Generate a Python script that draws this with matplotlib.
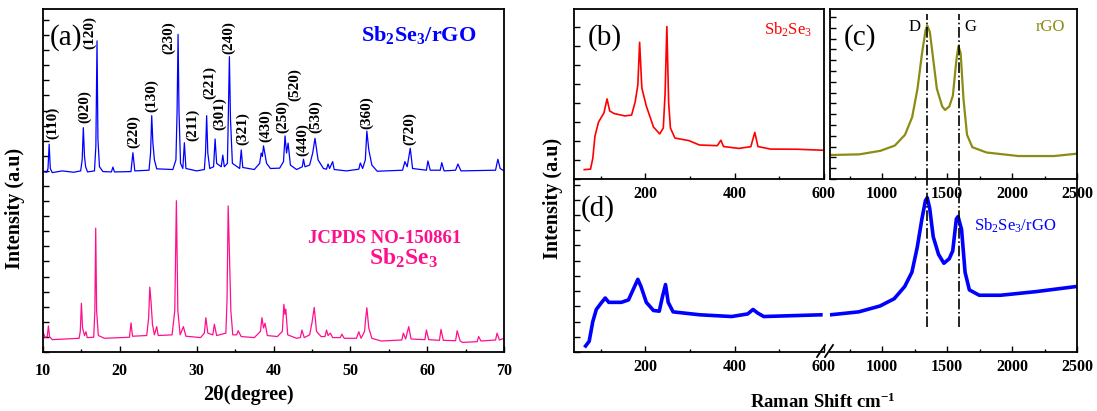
#!/usr/bin/env python
# -*- coding:utf-8 -*-

import matplotlib
matplotlib.use('Agg')
from matplotlib import pyplot as plt
from matplotlib.lines import Line2D
from matplotlib.ticker import MultipleLocator

plt.rcParams['font.family'] = ['Liberation Serif', 'DejaVu Serif']
plt.rcParams['mathtext.fontset'] = 'custom'
plt.rcParams['mathtext.rm'] = 'Liberation Serif'
plt.rcParams['mathtext.it'] = 'Liberation Serif:italic'
plt.rcParams['mathtext.bf'] = 'Liberation Serif:bold'

xrd_comp_2t = [10.0, 10.5, 10.65, 10.8, 10.95, 11.2, 12.5, 14.0, 14.9, 15.1,
               15.25, 15.4, 15.55, 15.8, 16.7, 16.88, 17.03, 17.15, 17.35,
               17.8, 18.9, 19.1, 19.3, 21.45, 21.7, 21.95, 23.8, 24.0, 24.15,
               24.3, 24.5, 24.8, 26.9, 27.3, 27.45, 27.58, 27.7, 27.9, 28.2,
               28.4, 28.6, 30.0, 31.0, 31.15, 31.3, 31.45, 31.7, 32.2, 32.4,
               32.6, 33.2, 33.4, 33.6, 34.0, 34.13, 34.26, 34.4, 34.65, 35.6,
               35.8, 36.0, 37.5, 38.2, 38.4, 38.55, 38.7, 39.1, 39.6, 40.8,
               41.3, 41.5, 41.7, 41.9, 42.2, 43.0, 43.75, 43.9, 44.1, 44.7,
               45.1, 45.4, 45.8, 46.5, 46.9, 47.1, 47.3, 47.7, 47.9, 49.5,
               50.8, 51.1, 51.3, 51.6, 51.95, 52.15, 52.4, 52.8, 53.5, 56.8,
               57.1, 57.4, 57.8, 58.1, 59.9, 60.1, 60.4, 61.7, 61.9, 62.2,
               63.7, 64.0, 64.4, 68.9, 69.2, 69.5, 70.0]
xrd_comp_int = [52.6, 52.4, 53.5, 60.6, 53.5, 52.3, 52.8, 52.4, 52.8, 56.0,
                65.4, 57.0, 54.0, 52.5, 52.8, 60.0, 90.7, 62.0, 54.0,
                52.6, 52.5, 53.9, 52.5, 52.6, 58.1, 52.8, 53.0, 58.0, 68.9,
                61.0, 56.0, 53.4, 53.2, 56.0, 70.0, 92.6, 70.0, 55.0, 53.5,
                61.0, 53.5, 52.8, 53.2, 58.0, 68.9, 58.0, 53.5, 54.0, 62.1,
                55.0, 54.0, 57.4, 54.0, 55.0, 70.0, 86.1, 68.0, 55.0, 53.5,
                58.9, 53.8, 53.2, 55.0, 58.0, 57.0, 60.1, 55.0, 53.5, 53.6,
                55.5, 63.0, 58.0, 60.9, 54.5, 53.2, 54.0, 56.2, 54.0, 54.5,
                58.0, 62.3, 56.0, 53.5, 53.3, 54.8, 53.5, 55.5, 53.2, 52.8,
                53.2, 53.3, 55.1, 53.5, 56.0, 64.4, 59.0, 54.5, 52.7, 53.0,
                55.5, 54.0, 59.4, 53.5, 53.0, 55.7, 53.0, 53.0, 55.2, 52.8,
                53.0, 54.8, 52.8, 53.0, 56.2, 53.5, 52.8]

# ---- (a) XRD, JCPDS 15-0861 Sb2Se3 reference ----
xrd_ref_2t = [10.0, 10.3, 10.55, 10.7, 10.85, 11.2, 13.0, 14.7, 14.85, 15.0,
              15.15, 15.4, 15.6, 15.75, 16.6, 16.75, 16.86, 16.98, 17.2,
              18.0, 21.25, 21.46, 21.65, 23.5, 23.75, 23.9, 24.05, 24.25,
              24.5, 24.8, 25.0, 26.8, 27.15, 27.36, 27.55, 27.85, 28.27,
              28.6, 30.5, 31.0, 31.2, 31.45, 32.1, 32.3, 32.6, 33.8, 33.95,
              34.1, 34.25, 34.45, 34.7, 35.2, 35.4, 35.8, 37.5, 38.3, 38.5,
              38.7, 38.9, 39.2, 40.5, 41.15, 41.35, 41.48, 41.6, 41.85, 43.0,
              43.5, 43.7, 44.0, 44.7, 45.0, 45.3, 45.6, 46.2, 46.7, 46.9,
              47.1, 47.4, 47.7, 48.7, 48.9, 49.2, 50.8, 51.1, 51.4, 51.85,
              52.0, 52.15, 52.4, 52.8, 54.0, 56.7, 56.9, 57.2, 57.6, 57.9,
              59.7, 59.9, 60.2, 61.6, 61.8, 62.1, 63.7, 63.9, 64.3, 64.6,
              66.5, 66.7, 67.0, 68.9, 69.1, 69.4, 70.0]
xrd_ref_int = [5.8, 4.2, 4.5, 7.6, 4.5, 3.6, 3.8, 4.0, 6.0, 14.2,
               7.0, 4.8, 5.9, 4.2, 4.3, 12.0, 36.1, 12.0, 4.8,
               4.0, 4.3, 8.5, 4.6, 4.8, 10.0, 18.9, 15.0, 8.0,
               5.0, 7.4, 4.8, 5.0, 12.0, 44.1, 12.0, 5.0, 7.4,
               4.6, 4.2, 5.5, 10.0, 5.5, 5.0, 8.1, 4.8, 5.5, 15.0,
               42.6, 30.0, 12.0, 5.0, 5.0, 6.2, 4.5, 4.2, 6.0, 10.0,
               7.0, 8.4, 4.8, 4.5, 6.0, 13.9, 11.0, 12.5, 5.0, 4.0,
               4.2, 6.4, 4.2, 5.0, 8.4, 13.0, 6.0, 4.5, 4.5, 6.4,
               4.8, 5.5, 4.2, 4.2, 5.2, 4.0, 4.0, 5.9, 4.0, 6.0,
               9.8, 12.9, 7.0, 4.0, 3.2, 3.5, 5.5, 3.8, 7.4, 3.8,
               3.6, 6.4, 3.6, 3.4, 6.6, 3.4, 3.3, 6.2, 3.2, 2.8,
               3.0, 4.5, 3.2, 3.5, 5.5, 3.5, 4.0]

# Miller indices and where their labels sit
hkl_names = ['(110)', '(020)', '(120)', '(220)', '(130)', '(230)', '(211)',
             '(221)', '(301)', '(240)', '(321)', '(430)', '(250)', '(520)',
             '(440)', '(530)', '(360)', '(720)']
hkl_2t = [11.26, 15.47, 16.12, 21.75, 24.15, 26.40, 29.48, 31.65, 33.04,
          34.21, 36.0, 38.99, 41.2, 42.8, 43.75, 45.53, 52.13, 57.68]
hkl_y = [66.9, 71.5, 93.1, 64.4, 74.9, 91.8, 66.3, 78.6, 69.4, 91.7, 65.0,
         65.9, 68.6, 78.0, 61.8, 68.5, 69.7, 65.0]

# ---- (b) Raman, Sb2Se3 ----
raman_sb_x = [63, 77, 82, 87, 95, 107, 114, 120, 130, 154, 169, 177, 183,
              187, 192, 202, 218, 232, 240, 244, 248, 252, 256, 266, 297,
              321, 361, 369, 375, 409, 436, 445, 452, 480, 540, 599]
raman_sb_y = [5.5, 5.8, 12.0, 25.3, 33.5, 38.8, 47.1, 40.0, 38.5, 37.1,
              37.6, 45.3, 55.3, 80.4, 53.5, 42.9, 30.6, 26.5, 30.0, 50.0,
              89.7, 45.0, 30.0, 24.1, 22.6, 20.0, 19.6, 22.8, 19.1, 18.0,
              19.0, 27.4, 19.1, 17.6, 17.5, 16.9]

# ---- (c) Raman, rGO ----
raman_rgo_x = [600, 826, 989, 1099, 1177, 1232, 1273, 1308, 1335, 1348,
               1368, 1395, 1422, 1463, 1485, 1518, 1545, 1572, 1588, 1605,
               1627, 1654, 1695, 1804, 2050, 2323, 2500]
raman_rgo_y = [14.1, 14.5, 16.6, 19.7, 26.0, 36.4, 53.1, 74.0, 87.5, 90.3,
               86.5, 69.8, 53.1, 42.7, 40.6, 42.7, 49.0, 69.8, 78.2, 74.0,
               46.9, 26.0, 18.7, 15.6, 13.5, 13.5, 14.9]

# ---- (d) Raman, Sb2Se3/rGO (low and high shift parts) ----
raman_comp_lo_x = [66, 74, 82, 90, 102, 110, 118, 146, 162, 174, 183, 190,
                   202, 218, 231, 238, 245, 251, 262, 322, 393, 429, 441,
                   451, 465, 593]
raman_comp_lo_y = [3.5, 6.2, 17.5, 24.6, 28.7, 31.2, 28.7, 28.7, 30.1, 36.9,
                   42.0, 37.9, 28.7, 24.0, 23.6, 31.8, 39.0, 28.7, 23.2,
                   21.5, 20.5, 22.0, 24.6, 22.6, 20.5, 21.5]
raman_comp_hi_x = [603, 821, 985, 1094, 1175, 1230, 1271, 1307, 1334, 1348,
                   1367, 1394, 1435, 1476, 1517, 1544, 1572, 1585, 1612,
                   1639, 1672, 1748, 1912, 2185, 2499]
raman_comp_hi_y = [21.5, 23.2, 26.6, 30.8, 37.9, 46.1, 60.5, 76.9, 87.5,
                   89.2, 83.0, 66.6, 56.4, 51.3, 53.9, 58.4, 76.9, 78.3,
                   70.8, 46.1, 35.9, 32.8, 32.8, 34.9, 37.9]

# D and G band positions
band_names = ['D', 'G']
band_pos = [1348, 1595]

TICK_FS = 11.5


def style_axis(ax, ystep, spine_lw=1.3):
    """  """
    for sp in ax.spines.values():
        sp.set_linewidth(spine_lw)
    ax.tick_params(axis='both', which='both', direction='in', width=1.0,
                   top=False, right=False, labelleft=False)
    ax.tick_params(which='major', length=4)
    ax.tick_params(which='minor', length=2.5)
    ax.yaxis.set_major_locator(MultipleLocator(ystep))
    ax.set_ylim(0, 100)
    for lab in ax.get_xticklabels():
        lab.set_fontweight('bold')
        lab.set_fontsize(TICK_FS)
    ax.tick_params(axis='x', pad=5)


def main():
    """  """
    fig = plt.figure(figsize=(10.97, 4.11), dpi=100)
    W, H = 1097.0, 411.0

    def rect(l, t, r, b):
        return [l / W, 1 - b / H, (r - l) / W, (b - t) / H]

    ax_a = fig.add_axes(rect(43, 9, 504, 352))
    ax_d1 = fig.add_axes(rect(574, 179, 824, 352))
    ax_d2 = fig.add_axes(rect(830, 179, 1077, 352))
    ax_b = fig.add_axes(rect(574, 9, 824, 179))
    ax_c = fig.add_axes(rect(830, 9, 1077, 179))
    for ax in (ax_d1, ax_d2):
        ax.patch.set_alpha(0)

    # (a) XRD
    ax_a.plot(xrd_comp_2t, xrd_comp_int, color='#0000FF', lw=0.9)
    ax_a.plot(xrd_ref_2t, xrd_ref_int, color='#FF0F8C', lw=0.9)
    ax_a.set_xlim(10, 70)
    ax_a.set_xticks([10, 20, 30, 40, 50, 60, 70])
    ax_a.xaxis.set_minor_locator(MultipleLocator(5))
    style_axis(ax_a, 4.4)
    ax_a.tick_params(axis='x', pad=8)
    for name, x, y in zip(hkl_names, hkl_2t, hkl_y):
        ax_a.text(x, y, name, rotation=90, ha='center', va='center',
                  fontsize=11, fontweight='bold')
    ax_a.text(0.050, 0.918, '(a)', transform=ax_a.transAxes, fontsize=21,
              ha='center', va='center')
    ax_a.text(0.815, 0.924, r'Sb$_\mathbf{2}$Se$_\mathbf{3}$/rGO',
              transform=ax_a.transAxes, fontsize=16, fontweight='bold',
              color='#0000FF', ha='center', va='center')
    ax_a.text(0.742, 0.332, 'JCPDS NO-150861', transform=ax_a.transAxes,
              fontsize=13.5, fontweight='bold', color='#FF0F8C',
              ha='center', va='center')
    ax_a.text(0.781, 0.272, r'Sb$_\mathbf{2}$Se$_\mathbf{3}$',
              transform=ax_a.transAxes, fontsize=17, fontweight='bold',
              color='#FF0F8C', ha='center', va='center')

    # (b) Raman Sb2Se3
    ax_b.plot(raman_sb_x, raman_sb_y, color='#FF0000', lw=1.2)
    ax_b.set_xlim(40, 600)
    ax_b.set_xticks([200, 400, 600])
    ax_b.xaxis.set_minor_locator(MultipleLocator(100))
    style_axis(ax_b, 11.2)
    ax_b.text(0.124, 0.835, '(b)', transform=ax_b.transAxes, fontsize=21,
              ha='center', va='center')
    ax_b.text(0.856, 0.876, r'Sb$_2$Se$_3$', transform=ax_b.transAxes,
              fontsize=12, color='#FF0000', ha='center', va='center')

    # (c) Raman rGO
    ax_c.plot(raman_rgo_x, raman_rgo_y, color='#8C8C14', lw=1.6)
    ax_c.set_xlim(600, 2500)
    ax_c.set_xticks([1000, 1500, 2000, 2500])
    ax_c.xaxis.set_minor_locator(MultipleLocator(250))
    style_axis(ax_c, 6.35)
    for pos in band_pos:
        ax_c.axvline(pos, ymin=0, ymax=0.97, color='black', lw=1.2, ls='-.')
    ax_c.text(0.344, 0.894, band_names[0], transform=ax_c.transAxes,
              fontsize=12, ha='center', va='center')
    ax_c.text(0.567, 0.894, band_names[1], transform=ax_c.transAxes,
              fontsize=12, ha='center', va='center')
    ax_c.text(0.121, 0.835, '(c)', transform=ax_c.transAxes, fontsize=21,
              ha='center', va='center')
    ax_c.text(0.891, 0.894, 'rGO', transform=ax_c.transAxes, fontsize=12,
              color='#8C8C14', ha='center', va='center')

    # (d) Raman Sb2Se3/rGO on a broken axis
    ax_d1.plot(raman_comp_lo_x, raman_comp_lo_y, color='#0000FF', lw=2.6)
    ax_d1.set_xlim(40, 600)
    ax_d1.set_xticks([200, 400, 600])
    ax_d1.xaxis.set_minor_locator(MultipleLocator(100))
    style_axis(ax_d1, 8.8)
    ax_d1.spines['right'].set_visible(False)
    ax_d1.spines['top'].set_visible(False)
    ax_d1.text(0.096, 0.832, '(d)', transform=ax_d1.transAxes, fontsize=21,
               ha='center', va='center')

    ax_d2.plot(raman_comp_hi_x, raman_comp_hi_y, color='#0000FF', lw=2.6)
    ax_d2.set_xlim(600, 2500)
    ax_d2.set_xticks([1000, 1500, 2000, 2500])
    ax_d2.xaxis.set_minor_locator(MultipleLocator(250))
    style_axis(ax_d2, 8.8)
    ax_d2.spines['left'].set_visible(False)
    ax_d2.spines['top'].set_visible(False)
    ax_d2.tick_params(axis='y', which='both', left=False)
    for pos in band_pos:
        ax_d2.axvline(pos, ymin=0.145, ymax=1.0, color='black', lw=1.2,
                      ls='-.')
    ax_d2.text(0.749, 0.728, r'Sb$_2$Se$_3$/rGO', transform=ax_d2.transAxes,
               fontsize=12, color='#0000FF', ha='center', va='center')

    # break marks on the (d) axis
    for x0 in (817, 825):
        fig.add_artist(Line2D([x0 / W, (x0 + 8) / W],
                              [1 - 357 / H, 1 - 345 / H],
                              color='black', lw=1.3))

    # axis titles
    fig.text(15 / W, 1 - 208 / H, 'Intensity (a.u)', rotation=90,
             fontsize=14.5, fontweight='bold', ha='center', va='center')
    fig.text(553 / W, 1 - 198 / H, 'Intensity (a.u)', rotation=90,
             fontsize=14.5, fontweight='bold', ha='center', va='center')
    fig.text(248 / W, 1 - 395 / H, '2\u03b8(degree)', fontsize=14.5,
             fontweight='bold', ha='center', va='center')
    fig.text(823 / W, 1 - 402 / H, r'Raman Shift cm$^{\mathbf{-1}}$',
             fontsize=13.5, fontweight='bold', ha='center', va='center')

    fig.savefig('out.png', dpi=100)


if __name__ == '__main__':
    main()
